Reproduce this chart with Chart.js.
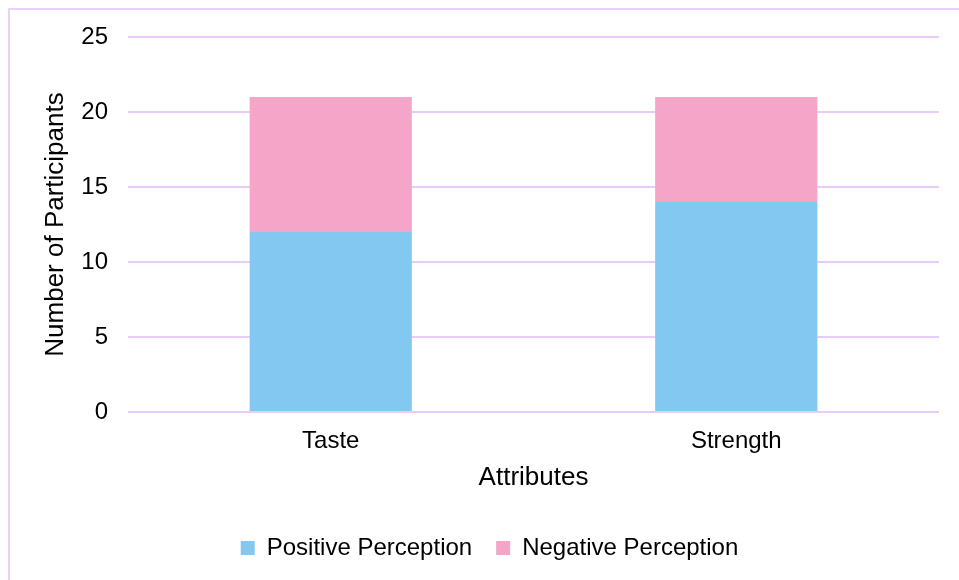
<!DOCTYPE html>
<html><head><meta charset="utf-8">
<script src="https://cdn.jsdelivr.net/npm/chart.js@4"></script>
<style>
html,body{margin:0;padding:0;background:#fff;overflow:hidden;}
#frame{position:absolute;left:8px;top:8px;width:1000px;height:620px;border:2px solid #EAD0F7;box-sizing:border-box;}
#wrap{position:absolute;left:0;top:0;width:959px;height:580px;}
</style></head>
<body>
<div id="frame"></div>
<div id="wrap"><canvas id="c" width="959" height="580"></canvas></div>
<script>
const categories = ["Taste", "Strength"];
const positive = [12, 14];
const negative = [9, 7];
const seriesNames = ["Positive Perception", "Negative Perception"];

const FONT = "'Liberation Sans', Arial, sans-serif";
Chart.defaults.font.family = FONT;
Chart.defaults.color = "#000";

new Chart(document.getElementById('c'), {
  type: 'bar',
  data: {
    labels: categories,
    datasets: [
      {label: seriesNames[0], data: positive, backgroundColor: '#83C8F0', categoryPercentage: 1, barPercentage: 0.4},
      {label: seriesNames[1], data: negative, backgroundColor: '#F4A5C8', categoryPercentage: 1, barPercentage: 0.4}
    ]
  },
  options: {
    responsive: false,
    animation: false,
    layout: {padding: {top: 37, right: 20, left: 40, bottom: 10}},
    plugins: {
      legend: {
        position: 'bottom',
        labels: {font: {size: 24}, boxWidth: 14, boxHeight: 14, padding: 24, color: '#000'}
      },
      tooltip: {enabled: false}
    },
    scales: {
      x: {
        stacked: true,
        grid: {display: false, drawTicks: false},
        border: {display: false},
        ticks: {font: {size: 24}, padding: 15, color: '#000'},
        title: {display: true, text: 'Attributes', font: {size: 26}, color: '#000', padding: {top: 6, bottom: 19}},
        afterFit: s => { s.height = 100; }
      },
      y: {
        stacked: true,
        min: 0, max: 25,
        grid: {color: '#E8CBF7', lineWidth: 2, drawTicks: false},
        border: {display: false},
        ticks: {stepSize: 5, font: {size: 24}, padding: 20, color: '#000'},
        title: {display: true, text: 'Number of Participants', font: {size: 26}, color: '#000', padding: {top: 0, bottom: 8}},
        afterFit: s => { s.width = 88; }
      }
    }
  }
});
</script>
</body></html>
